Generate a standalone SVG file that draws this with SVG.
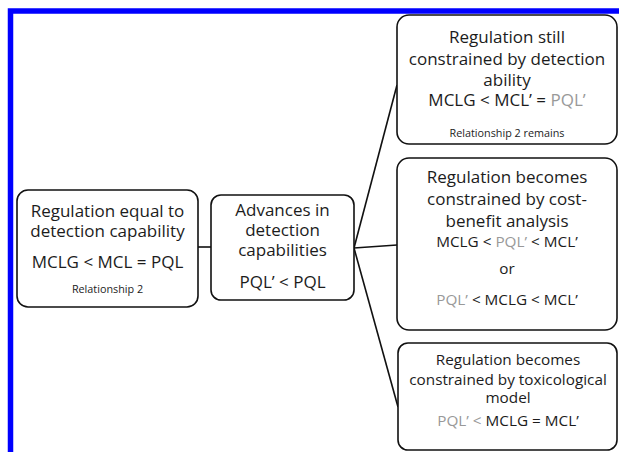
<svg xmlns="http://www.w3.org/2000/svg" width="619" height="452" viewBox="0 0 619 452">
<style>
.box{fill:#fff;stroke:#111;stroke-width:1.6}
.t{font-family:"Open Sans","Liberation Sans",sans-serif;fill:#1c1c1c;text-anchor:middle}
.l{font-size:17px}
.m{font-size:15.3px}
.s{font-size:10.8px}
.g{fill:#999}
.c{stroke:#111;stroke-width:1.6;fill:none}
</style>
<rect x="0" y="0" width="619" height="452" fill="#fff"/>
<rect x="10.5" y="11" width="700" height="600" fill="none" stroke="#0000ff" stroke-width="5.5"/>
<g id="connectors">
<line class="c" x1="198" y1="247" x2="211" y2="247"/>
<line class="c" x1="354" y1="248" x2="397" y2="85"/>
<line class="c" x1="354" y1="248" x2="397" y2="245"/>
<line class="c" x1="354" y1="248" x2="398" y2="407"/>
</g>
<g id="n1">
<rect class="box" x="17" y="190" width="181" height="117" rx="11"/>
<text class="t l" x="107.5" y="217">Regulation equal to</text>
<text class="t l" x="107.5" y="237">detection capability</text>
<text class="t l" x="107.5" y="268">MCLG &lt; MCL = PQL</text>
<text class="t s" x="107.5" y="293">Relationship 2</text>
</g>
<g id="n2">
<rect class="box" x="211" y="195" width="143" height="105" rx="10"/>
<text class="t l" x="282.5" y="216">Advances in</text>
<text class="t l" x="282.5" y="236">detection</text>
<text class="t l" x="282.5" y="256">capabilities</text>
<text class="t l" x="282.5" y="288">PQL’ &lt; PQL</text>
</g>
<g id="nA">
<rect class="box" x="397" y="15" width="220" height="129" rx="12"/>
<text class="t l" x="507" y="43">Regulation still</text>
<text class="t l" x="507" y="65">constrained by detection</text>
<text class="t l" x="507" y="86">ability</text>
<text class="t l" x="507" y="106">MCLG &lt; MCL’ = <tspan class="g">PQL’</tspan></text>
<text class="t s" x="507" y="137">Relationship 2 remains</text>
</g>
<g id="nB">
<rect class="box" x="397" y="158" width="220" height="172" rx="12"/>
<text class="t l" x="507" y="183">Regulation becomes</text>
<text class="t l" x="507" y="205">constrained by cost-</text>
<text class="t l" x="507" y="227">benefit analysis</text>
<text class="t m" x="507" y="247">MCLG &lt; <tspan class="g">PQL’</tspan> &lt; MCL’</text>
<text class="t m" x="507" y="274">or</text>
<text class="t m" x="507" y="305"><tspan class="g">PQL’</tspan> &lt; MCLG &lt; MCL’</text>
</g>
<g id="nC">
<rect class="box" x="398" y="343" width="219" height="107" rx="10"/>
<text class="t m" x="508" y="365">Regulation becomes</text>
<text class="t m" x="508" y="385">constrained by toxicological</text>
<text class="t m" x="508" y="403">model</text>
<text class="t m" x="508" y="426"><tspan class="g">PQL’ &lt;</tspan> MCLG = MCL’</text>
</g>
</svg>
